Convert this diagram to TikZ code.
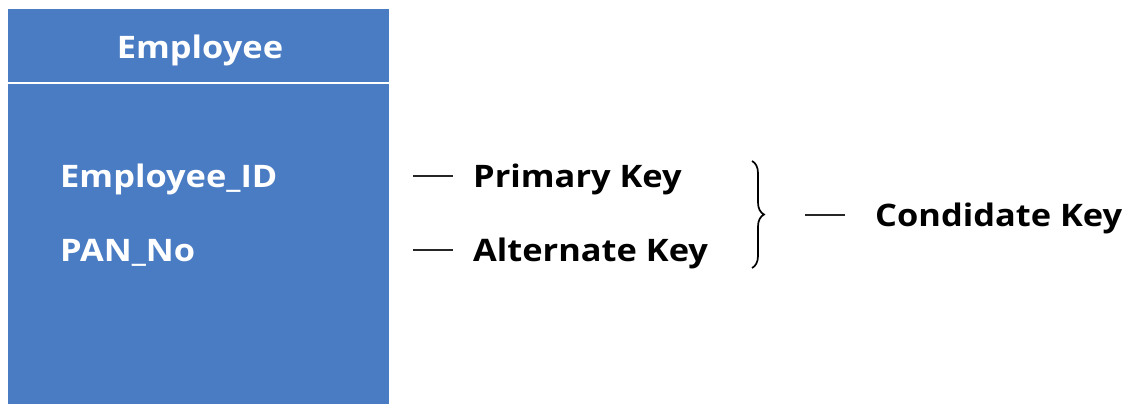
\documentclass[tikz,border=0pt]{standalone}
\usepackage{fontspec}
\setmainfont{Open Sans}[FakeStretch=1.11]
\usetikzlibrary{decorations.pathreplacing}
\definecolor{empblue}{RGB}{74,124,196}
\tikzset{
  lbl/.style={font=\bfseries\fontsize{31}{36}\selectfont, inner sep=0pt, anchor=west},
  boxlbl/.style={lbl, text=white},
  keyline/.style={line width=1.6pt, draw=black!85},
}
\begin{document}
\begin{tikzpicture}[x=1pt,y=-1pt]
\useasboundingbox (0,0) rectangle (1128,404);
\fill[empblue] (8,9) rectangle (389,404);
\draw[white, line width=2.5pt] (8,83) -- (389,83);
\node[boxlbl, anchor=center] (title) at (200,50) {Employee};
\node[boxlbl] (eid) at (60,179) {Employee\_ID};
\node[boxlbl] (pan) at (60,253) {PAN\_No};
\coordinate (d1a) at (413,176); \coordinate (d1b) at (453,176);
\coordinate (d2a) at (413,250); \coordinate (d2b) at (453,250);
\draw[keyline] (d1a) -- (d1b);
\draw[keyline] (d2a) -- (d2b);
\node[lbl] (pk) at (473,179) {Primary Key};
\node[lbl] (ak) at (473,253) {Alternate Key};
\coordinate (bt) at (752,161); \coordinate (bb) at (752,268);
\draw[line width=1.7pt, decorate, decoration={brace, amplitude=12pt, raise=0pt}] (bt) -- (bb);
\coordinate (d3a) at (805,215); \coordinate (d3b) at (845,215);
\draw[keyline] (d3a) -- (d3b);
\node[lbl] (ck) at (875,218) {Condidate Key};
\end{tikzpicture}
\end{document}
